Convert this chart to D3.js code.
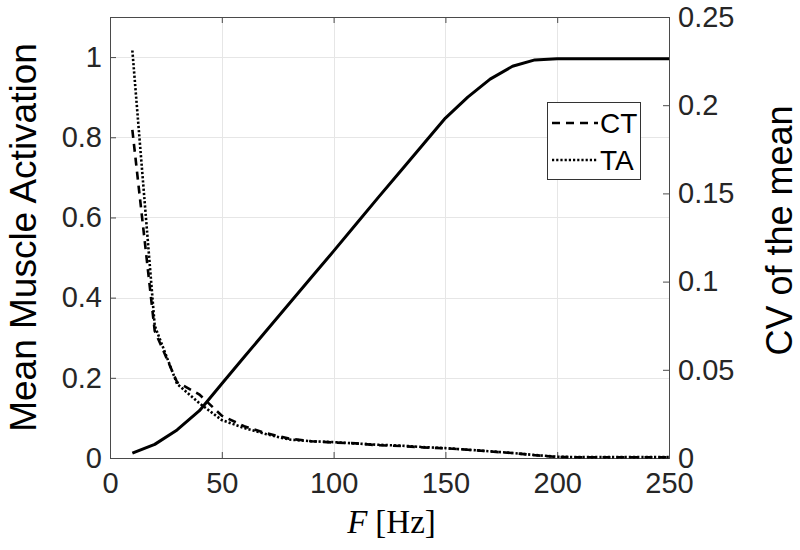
<!DOCTYPE html>
<html>
<head>
<meta charset="utf-8">
<script src="https://cdn.jsdelivr.net/npm/d3@7"></script>
<style>
  html, body { margin: 0; padding: 0; background: #fff; }
  svg { display: block; }
</style>
</head>
<body>
<svg id="chart" width="800" height="550"></svg>
<script>
// ---- data ----
const freq = [10, 20, 30, 40, 50, 60, 70, 80, 90, 100, 110, 120, 130, 140, 150, 160, 170, 180, 190, 200, 210, 220, 230, 240, 250];
const meanActivation = [0.012, 0.034, 0.07, 0.118, 0.185, 0.252, 0.318, 0.384, 0.45, 0.516, 0.583, 0.65, 0.716, 0.782, 0.848, 0.90, 0.945, 0.977, 0.993, 0.996, 0.996, 0.996, 0.996, 0.996, 0.996];
const cvCT = [0.186, 0.072, 0.043, 0.036, 0.024, 0.018, 0.014, 0.011, 0.0095, 0.0088, 0.0083, 0.0072, 0.0068, 0.006, 0.0055, 0.0047, 0.0037, 0.0028, 0.0016, 0.0006, 0.0004, 0.0004, 0.0004, 0.0004, 0.0004];
const cvTA = [0.231, 0.075, 0.042, 0.031, 0.0215, 0.017, 0.0135, 0.0105, 0.0095, 0.009, 0.0082, 0.0075, 0.007, 0.0062, 0.0056, 0.0047, 0.0038, 0.0028, 0.0017, 0.0007, 0.0005, 0.0005, 0.0005, 0.0005, 0.0005];
const xTicks = [0, 50, 100, 150, 200, 250];
const xTickLabels = ["0", "50", "100", "150", "200", "250"];
const yLeftTicks = [0, 0.2, 0.4, 0.6, 0.8, 1];
const yLeftTickLabels = ["0", "0.2", "0.4", "0.6", "0.8", "1"];
const yRightTicks = [0, 0.05, 0.1, 0.15, 0.2, 0.25];
const yRightTickLabels = ["0", "0.05", "0.1", "0.15", "0.2", "0.25"];
const legendLabels = ["CT", "TA"];

// ---- layout ----
const L = 110, R = 669, T = 17, B = 458;
const svg = d3.select("#chart");
const axisColor = "#4a4a4a";
const font = "'Liberation Sans', Arial, Helvetica, sans-serif";

const x = d3.scaleLinear().domain([0, 250]).range([L, R]);
const yL = d3.scaleLinear().domain([0, 1.1]).range([B, T]);
const yR = d3.scaleLinear().domain([0, 0.25]).range([B, T]);

// grid
const grid = svg.append("g").attr("stroke", "#e6e6e6").attr("stroke-width", 1);
grid.selectAll(".gx").data(xTicks.slice(1, -1)).join("line")
  .attr("x1", d => Math.round(x(d)) + 0.5).attr("x2", d => Math.round(x(d)) + 0.5)
  .attr("y1", T).attr("y2", B);
grid.selectAll(".gy").data(yLeftTicks.slice(1)).join("line")
  .attr("y1", d => Math.round(yL(d)) + 0.5).attr("y2", d => Math.round(yL(d)) + 0.5)
  .attr("x1", L).attr("x2", R);

// axes
function styleAxis(g) {
  g.select(".domain").remove();
  g.selectAll(".tick line").attr("stroke", axisColor);
  g.selectAll(".tick text").attr("fill", "#262626").style("font-family", font).style("font-size", "29px");
}
const xAxis = d3.axisBottom(x).tickValues(xTicks).tickFormat((d, i) => xTickLabels[i]).tickSize(-6).tickPadding(14);
svg.append("g").attr("transform", `translate(0,${B})`).call(xAxis).call(styleAxis);
const xAxisTop = d3.axisTop(x).tickValues(xTicks).tickFormat("").tickSize(-6);
svg.append("g").attr("transform", `translate(0,${T})`).call(xAxisTop).call(styleAxis);
const yAxisL = d3.axisLeft(yL).tickValues(yLeftTicks).tickFormat((d, i) => yLeftTickLabels[i]).tickSize(-6).tickPadding(8);
svg.append("g").attr("transform", `translate(${L},0)`).call(yAxisL).call(styleAxis);
const yAxisR = d3.axisRight(yR).tickValues(yRightTicks).tickFormat((d, i) => yRightTickLabels[i]).tickSize(-6).tickPadding(9);
svg.append("g").attr("transform", `translate(${R},0)`).call(yAxisR).call(styleAxis);

// frame
svg.append("rect").attr("x", L + 0.5).attr("y", T + 0.5).attr("width", R - L).attr("height", B - T)
  .attr("fill", "none").attr("stroke", axisColor).attr("stroke-width", 1);

// lines
const lineL = d3.line().x((d, i) => x(freq[i])).y(d => yL(d));
const lineR = d3.line().x((d, i) => x(freq[i])).y(d => yR(d));

svg.append("path").datum(meanActivation).attr("d", lineL)
  .attr("fill", "none").attr("stroke", "#000").attr("stroke-width", 3).attr("stroke-linejoin", "round");
svg.append("path").datum(cvCT).attr("d", lineR)
  .attr("fill", "none").attr("stroke", "#000").attr("stroke-width", 2.6).attr("stroke-dasharray", "8,6");
svg.append("path").datum(cvTA).attr("d", lineR)
  .attr("fill", "none").attr("stroke", "#000").attr("stroke-width", 2.6).attr("stroke-dasharray", "2.2,2");

// axis labels
svg.append("text").attr("transform", `translate(36,${(T + B) / 2}) rotate(-90)`)
  .attr("text-anchor", "middle").style("font-family", font).style("font-size", "37px").attr("fill", "#000")
  .text("Mean Muscle Activation");
svg.append("text").attr("transform", `translate(792,${(T + B) / 2 - 7}) rotate(-90)`)
  .attr("text-anchor", "middle").style("font-family", font).style("font-size", "36px").attr("fill", "#000")
  .text("CV of the mean");
const xl = svg.append("text").attr("x", (L + R) / 2 + 2).attr("y", 533).attr("text-anchor", "middle")
  .style("font-family", "'Liberation Serif', 'Times New Roman', serif").style("font-size", "33px").attr("fill", "#000");
xl.append("tspan").attr("font-style", "italic").text("F");
xl.append("tspan").attr("dx", 8).text("[Hz]");

// legend
const lg = svg.append("g");
lg.append("rect").attr("x", 547.5).attr("y", 102.5).attr("width", 93).attr("height", 77)
  .attr("fill", "#fff").attr("stroke", "#333").attr("stroke-width", 1);
const dashes = ["8,6", "2.2,2"];
const rows = [123, 160];
legendLabels.forEach((lab, i) => {
  lg.append("line").attr("x1", 552).attr("x2", 598).attr("y1", rows[i]).attr("y2", rows[i])
    .attr("stroke", "#000").attr("stroke-width", 2.6).attr("stroke-dasharray", dashes[i]);
  lg.append("text").attr("x", 600).attr("y", rows[i] + 10).style("font-family", font)
    .style("font-size", "28px").attr("fill", "#000").text(lab);
});
</script>
</body>
</html>
